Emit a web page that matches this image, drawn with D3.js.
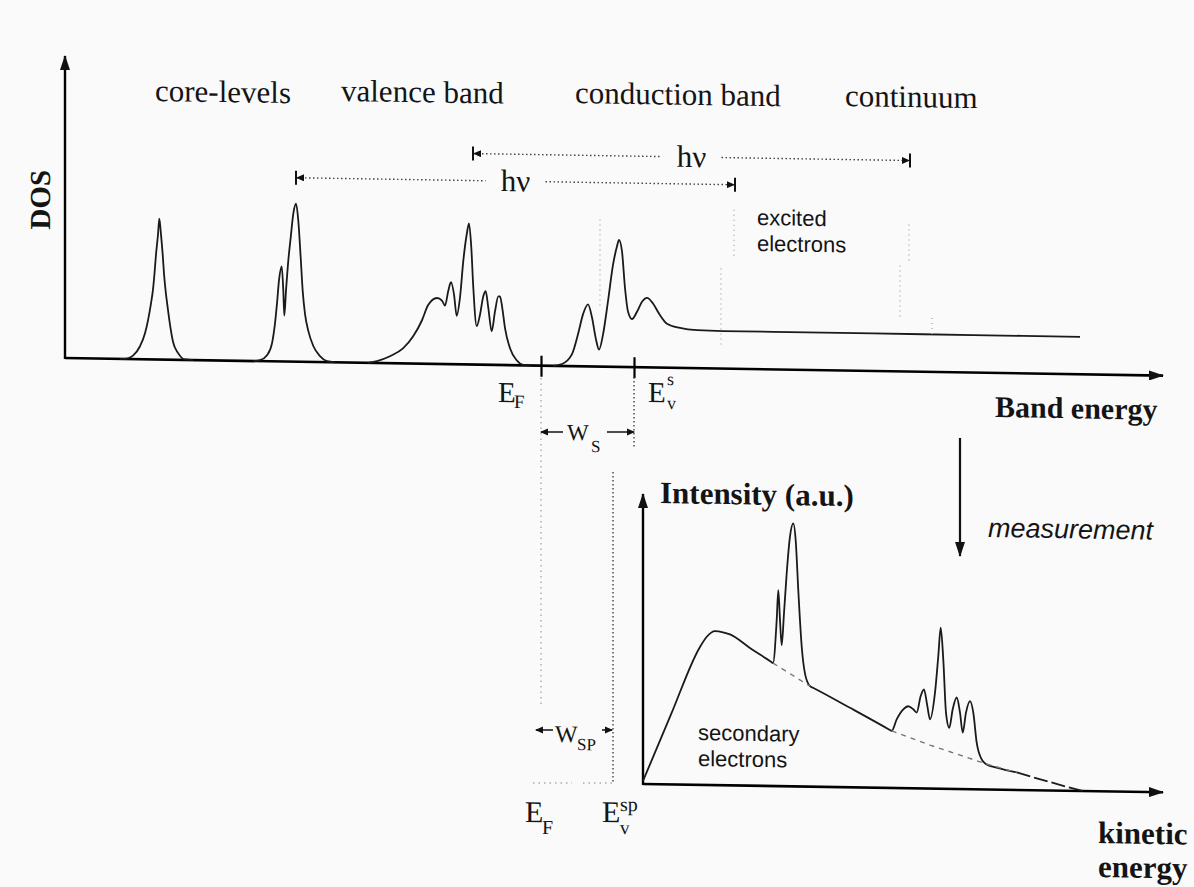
<!DOCTYPE html>
<meta charset="utf-8">
<style>
  body { margin: 0; background: #fafafa; }
  svg { display: block; }
  .serif { font-family: "Liberation Serif", "Times New Roman", serif; fill: #141414; }
  .sans { font-family: "Liberation Sans", Arial, sans-serif; fill: #141414; }
  .curve { fill: none; stroke: #1a1a1a; stroke-width: 1.8; stroke-linejoin: round; }
  .dash { fill: none; stroke: #777; stroke-width: 1.4; stroke-dasharray: 5,5; }
  .guide { stroke: #444; stroke-width: 1.4; stroke-dasharray: 1.5,2.5; }
  .faint { stroke: #aaa; stroke-width: 1.4; stroke-dasharray: 1.5,4; }
  .stipple { stroke: #b4b4b4; stroke-width: 1.6; stroke-dasharray: 1,4; }
</style>
<body></body>
<script src="https://d3js.org/d3.v7.min.js"></script>
<script>

// ---- band energy picture (top) : [band energy (a.u.), DOS (a.u.)]
var coreLevel1 = [[57,0],[64,0.5],[70,3.5],[77,13],[82,26],[85,39],[88,56],[90,70],[91.5,86],[93,105],[95,125],[96.3,141],[98,125],[99.7,105],[101,86],[102.7,68],[104.7,52],[107,35],[110,18],[115,7],[122,0.5],[130,0]];
var coreLevel2 = [[190,0],[197,1],[204,6],[209,18],[212,38],[214,58],[216,81],[218.7,95],[220.3,71],[221.3,46],[223,71],[225.3,101],[227.7,124],[230.3,148],[233,158],[235.3,141],[237.7,104],[239.7,71],[242,48],[245.3,31],[250.3,16],[257,6],[264,1],[272,0]];
var valenceBand = [[305,0],[314,2],[327,7],[340,15],[350,27],[359,43.5],[365,58.5],[374,66],[379,63.5],[382,58.5],[385.3,73.5],[388,82],[391,70],[393.7,48.5],[397,67],[400.3,103.5],[403.7,130],[406,141],[408.3,117],[410.3,77],[413.7,38.5],[417,50],[420.3,68.5],[422.7,73.5],[425.3,57],[428.7,33.5],[432,53.5],[435.3,68.5],[437,68.5],[439.3,57],[442,37],[447,17],[453.7,5],[460.3,0.5],[468,0]];
var conductionBand = [[490,0],[499,2],[509,12],[515,32],[520,52],[525,62],[529,49],[533,27],[536,17],[540,32],[545,65.5],[550,102],[554,120.5],[556,127],[559,115.5],[562,79],[565,55.5],[569,48],[574,55.5],[579,65.5],[584,69.5],[590,64],[596,54],[604,44],[617,40],[634,38],[660,37.5],[760,37.5],[860,37.5],[960,37.5],[1017,37.5]];
// faint "excited electrons" marks: [energy, DOS from, DOS to]
var excitedMarks = [[537,147,57],[671,159,109],[658,100,24],[846,147,107],[837,106,51],[869,54,37]];
// photon energy arrows
var hvFrom = [233, 410];
var hvTo = [672, 847];
var hvLevel = [184, 211];
// energy levels on the band energy axis
var levelEF = 478, levelEvS = 571, levelEvSP = 550;

// ---- measured spectrum (bottom) : [kinetic energy (a.u.), intensity (a.u.)]
var spectrum = [[0,3],[28,70],[57,138],[64,148.5],[72,154],[80,153],[87,151],[108,137],[128,124.3],[130,123],[133.7,166],[135.3,196],[137,166],[138.7,141],[141,173],[143.7,213],[147,250],[150.3,263],[152.7,246],[155.3,196],[158.7,140],[162,113],[167,100.5],[170,99],[208,79],[246,58.5],[248.7,57],[253.7,68.6],[260.3,78.7],[265.3,82],[270.3,79],[273.7,75.8],[277.7,92.5],[281,99],[284.3,82.6],[287,69.3],[292,96],[295.3,132.7],[297.7,161],[300.3,129],[303,76],[306.3,61],[309.7,79.7],[313.7,91.5],[317,76.5],[319.7,56.5],[323,76.5],[327,88],[330.3,76.6],[333.7,46.6],[338.7,30],[343.7,25],[353.7,22],[373.7,17.5]];
var spectrumTail = [[373.7,17.5],[403.7,9.3],[433.7,1.5],[440,0]];
var backgroundCore = [[130,123],[167,100.5]];
var backgroundValence = [[248.7,57],[287,43.5],[320,33],[345,25],[373.7,17.5]];

var W = 1194, H = 887;
var K = 0.016; // the scanned page is slightly sheared

var svg = d3.select("body").append("svg").attr("width", W).attr("height", H);
svg.append("rect").attr("width", W).attr("height", H).attr("fill", "#fafafa");

var defs = svg.append("defs");
function marker(id, len, wid) {
	defs.append("marker").attr("id", id)
		.attr("viewBox", "0 0 " + len + " " + wid)
		.attr("refX", len - 1).attr("refY", wid / 2)
		.attr("markerWidth", len).attr("markerHeight", wid)
		.attr("markerUnits", "userSpaceOnUse")
		.attr("orient", "auto-start-reverse")
		.append("path")
			.attr("d", "M0,0L" + len + "," + (wid / 2) + "L0," + wid + "Z")
			.attr("fill", "#111");
}
marker("big", 15, 10);
marker("small", 8, 7);

var g = svg.append("g").attr("transform", "skewY(" + (Math.atan(K) * 180 / Math.PI) + ")");
function uy(x, y) { return y - K * x; }
function at(x, y) { return "translate(" + x + "," + uy(x, y) + ")"; }
function label(x, y, str, size, cls) {
	return g.append("text").attr("class", cls || "serif")
		.attr("transform", at(x, y))
		.style("font-size", size + "px")
		.text(str);
}

// scales
var xBand = d3.scaleLinear().domain([0, 1100]).range([63, 1163]);
var yDos = d3.scaleLinear().domain([0, 300]).range([357, 57]);
var xKin = d3.scaleLinear().domain([0, 520]).range([643, 1163]);
var yInt = d3.scaleLinear().domain([0, 300]).range([773.7, 473.7]);

// ---- top axes
var bandAxis = g.append("g").attr("transform", "translate(0," + yDos(0) + ")")
	.call(d3.axisBottom(xBand).tickValues([levelEF, levelEvS]).tickSizeInner(11).tickSizeOuter(0).tickFormat(""));
bandAxis.select(".domain").attr("d", "M" + xBand(2) + ",0H" + xBand(1100))
	.attr("stroke-width", 2.6).attr("marker-end", "url(#big)");
bandAxis.selectAll(".tick line").attr("y1", -10).attr("stroke-width", 2.2);

var dosAxis = g.append("g").attr("transform", "translate(" + xBand(2) + ",0)")
	.call(d3.axisLeft(yDos).tickValues([]).tickSizeOuter(0));
dosAxis.select(".domain").attr("d", "M0," + (yDos(0) + 1) + "V" + yDos(302))
	.attr("stroke-width", 2.4).attr("marker-end", "url(#big)");

// ---- top curves
var lineUp = d3.line().x(function(d) { return xBand(d[0]); }).y(function(d) { return yDos(d[1]); })
	.curve(d3.curveMonotoneX);
[coreLevel1, coreLevel2, valenceBand, conductionBand].forEach(function(s) {
	g.append("path").datum(s).attr("class", "curve").attr("d", lineUp);
});

g.selectAll(".excited").data(excitedMarks).enter().append("line")
	.attr("class", "stipple")
	.attr("x1", function(d) { return xBand(d[0]); }).attr("x2", function(d) { return xBand(d[0]); })
	.attr("y1", function(d) { return yDos(d[1]); }).attr("y2", function(d) { return yDos(d[2]); });

// hv arrows
hvFrom.forEach(function(f, i) {
	var x0 = xBand(f), x1 = xBand(hvTo[i]), y = yDos(hvLevel[i]), xm = (x0 + x1) / 2;
	g.append("line").attr("class", "guide").attr("x1", x0 + 1).attr("x2", xm - 30)
		.attr("y1", y).attr("y2", y).attr("marker-start", "url(#small)");
	g.append("line").attr("class", "guide").attr("x1", xm + 30).attr("x2", x1 - 1)
		.attr("y1", y).attr("y2", y).attr("marker-end", "url(#small)");
	[x0, x1].forEach(function(x) {
		g.append("line").attr("x1", x).attr("x2", x).attr("y1", y - 7).attr("y2", y + 7)
			.attr("stroke", "#111").attr("stroke-width", 2);
	});
	g.append("text").attr("class", "serif").attr("x", xm).attr("y", y + 10)
		.attr("text-anchor", "middle").style("font-size", "31px").text("hν");
});

// region titles
label(155, 101, "core-levels", 31);
label(341, 101, "valence band", 31);
label(575, 103, "conduction band", 31);
label(845, 106, "continuum", 31);
label(757, 225, "excited", 22, "sans");
label(757, 251, "electrons", 22, "sans");

g.append("text").attr("class", "serif")
	.attr("transform", at(50, 200) + " rotate(-90)")
	.attr("text-anchor", "middle")
	.style("font-size", "29px").style("font-weight", "bold").text("DOS");

label(995, 417, "Band energy", 30).style("font-weight", "bold");

// level labels
label(498, 402, "E", 29);
label(514, 408, "F", 19);
label(648, 402, "E", 29);
label(667, 385, "s", 18);
label(667, 409, "v", 18);

// dotted level lines going down to the measurement
var xEF = xBand(levelEF), xEvS = xBand(levelEvS), xEvSP = xBand(levelEvSP);
g.append("line").attr("class", "faint").attr("x1", xEF).attr("x2", xEF)
	.attr("y1", uy(xEF, 378)).attr("y2", uy(xEF, 705));
g.append("line").attr("class", "guide").attr("x1", xEvS).attr("x2", xEvS)
	.attr("y1", uy(xEvS, 377)).attr("y2", uy(xEvS, 447));
g.append("line").attr("class", "guide").attr("x1", xEvSP).attr("x2", xEvSP)
	.attr("y1", uy(xEvSP, 472)).attr("y2", uy(xEvSP, 783));
g.append("line").attr("class", "faint").attr("x1", 533).attr("x2", 572)
	.attr("y1", uy(533, 783)).attr("y2", uy(572, 783));
g.append("line").attr("class", "faint").attr("x1", 583).attr("x2", xEvSP)
	.attr("y1", uy(583, 783)).attr("y2", uy(xEvSP, 783));

function arrow(xa, xb, y) {
	g.append("line").attr("x1", xa).attr("x2", xb).attr("y1", uy(xa, y)).attr("y2", uy(xb, y))
		.attr("stroke", "#111").attr("stroke-width", 1.6).attr("marker-end", "url(#small)");
}
// work function W_S
arrow(563, xEF, 432);
arrow(607, xEvS, 432);
label(567, 440, "W", 23);
label(591, 452, "S", 17);
// W_SP
arrow(553, 536, 730);
arrow(602, xEvSP - 1, 730);
label(555, 742, "W", 24);
label(577, 750, "SP", 17);

label(525, 822, "E", 30);
label(542, 834, "F", 20);
label(602, 822, "E", 30);
label(620, 811, "sp", 20);
label(620, 834, "v", 19);

// measurement arrow
g.append("line").attr("x1", 960).attr("x2", 960).attr("y1", uy(960, 438)).attr("y2", uy(960, 556))
	.attr("stroke", "#111").attr("stroke-width", 2.2).attr("marker-end", "url(#big)");
label(988, 537, "measurement", 27, "sans").style("font-style", "italic");

// ---- bottom axes
var kinAxis = g.append("g").attr("transform", "translate(0," + yInt(0) + ")")
	.call(d3.axisBottom(xKin).tickValues([]).tickSizeOuter(0));
kinAxis.select(".domain").attr("d", "M" + xKin(0) + ",0H" + xKin(520))
	.attr("stroke-width", 2.6).attr("marker-end", "url(#big)");

var intAxis = g.append("g").attr("transform", "translate(" + xKin(0) + ",0)")
	.call(d3.axisLeft(yInt).tickValues([]).tickSizeOuter(0));
intAxis.select(".domain").attr("d", "M0," + (yInt(0) + 1) + "V" + yInt(290))
	.attr("stroke-width", 2.4).attr("marker-end", "url(#big)");

// ---- bottom spectrum
var lineDown = d3.line().x(function(d) { return xKin(d[0]); }).y(function(d) { return yInt(d[1]); })
	.curve(d3.curveMonotoneX);
var lineStraight = d3.line().x(function(d) { return xKin(d[0]); }).y(function(d) { return yInt(d[1]); });
g.append("path").datum(spectrum).attr("class", "curve").attr("d", lineDown);
g.append("path").datum(spectrumTail).attr("class", "curve").attr("stroke-dasharray", "14,4").attr("d", lineDown);
[backgroundCore, backgroundValence].forEach(function(s) {
	g.append("path").datum(s).attr("class", "dash").attr("d", lineStraight);
});

label(660, 503, "Intensity (a.u.)", 31).style("font-weight", "bold");
label(698, 740, "secondary", 22, "sans");
label(698, 766, "electrons", 22, "sans");
label(1098, 843, "kinetic", 31).style("font-weight", "bold");
label(1098, 877, "energy", 31).style("font-weight", "bold");

</script>
